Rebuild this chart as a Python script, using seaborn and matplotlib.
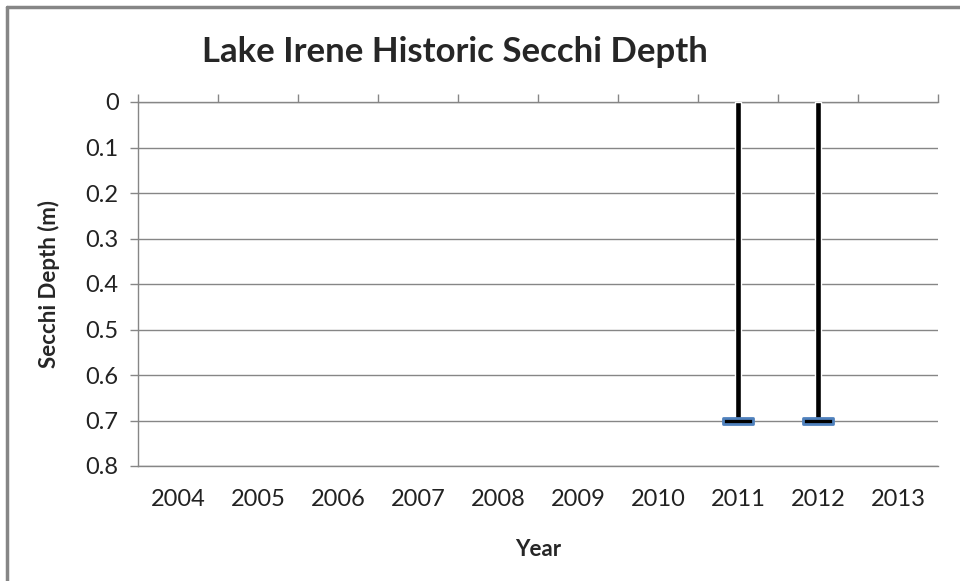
import matplotlib
matplotlib.use("Agg")
import matplotlib.pyplot as plt
from matplotlib.path import Path
from matplotlib.lines import Line2D
import numpy as np
import pandas as pd
import seaborn as sns

# data
years = ["2004", "2005", "2006", "2007", "2008", "2009", "2010", "2011", "2012", "2013"]
secchi = [np.nan, np.nan, np.nan, np.nan, np.nan, np.nan, np.nan, 0.7, 0.7, np.nan]
yticks = [0, 0.1, 0.2, 0.3, 0.4, 0.5, 0.6, 0.7, 0.8]

df = pd.DataFrame({"Year": years, "Secchi": secchi})

sns.set_style("white")
plt.rcParams["font.family"] = ["Lato", "DejaVu Sans"]
grey = "#868686"

fig = plt.figure(figsize=(9.6, 5.81), dpi=100)
ax = fig.add_axes([138 / 960, 1 - 466 / 581, 800 / 960, 364 / 581])

# drop bars from the surface down to the reading
sns.barplot(data=df, x="Year", y="Secchi", order=years, color="black",
            width=0.07, ax=ax, errorbar=None, zorder=3)

# flat dash marker at each reading
dash = Path([(-1, -0.22), (1, -0.22), (1, 0.22), (-1, 0.22), (-1, -0.22)],
            [Path.MOVETO, Path.LINETO, Path.LINETO, Path.LINETO, Path.CLOSEPOLY])
pts = df.dropna()
sns.scatterplot(x=[years.index(y) for y in pts["Year"]], y=pts["Secchi"], marker=dash,
                s=480, color="black", edgecolor="#4f81bd", linewidth=2, ax=ax, zorder=4,
                legend=False)

ax.set_xlim(-0.5, len(years) - 0.5)
ax.set_ylim(0.8, 0)
ax.set_yticks(yticks)
ax.set_yticklabels(["0", "0.1", "0.2", "0.3", "0.4", "0.5", "0.6", "0.7", "0.8"])
ax.yaxis.grid(True, color=grey, linewidth=1)
ax.set_axisbelow(True)

# tick marks sit between categories, on the surface line
ax.set_xticks(np.arange(-0.5, len(years), 1), minor=True)
ax.tick_params(axis="x", which="major", bottom=False, top=False, labelsize=17,
               pad=13, labelcolor="#222222")
ax.tick_params(axis="x", which="minor", bottom=False, top=True, direction="out",
               length=6, width=1, color=grey)
ax.tick_params(axis="y", left=True, direction="out", length=6, width=1, color=grey,
               labelsize=17, pad=8, labelcolor="#222222")

for side in ["top", "left", "bottom"]:
    ax.spines[side].set_color(grey)
    ax.spines[side].set_linewidth(1)
ax.spines["right"].set_visible(False)

ax.set_xlabel("Year", fontsize=16, fontweight="bold", labelpad=21)
ax.set_ylabel("Secchi Depth (m)", fontsize=16, fontweight="bold", labelpad=18)
fig.text(455 / 960, 1 - 52 / 581, "Lake Irene Historic Secchi Depth", ha="center",
         va="center", fontsize=25, fontweight="bold")

# chart area frame (cropped at right and bottom)
fig.add_artist(Line2D([7 / 960, 7 / 960], [0, 1 - 7 / 581], color=grey, lw=2.5,
                      transform=fig.transFigure))
fig.add_artist(Line2D([7 / 960, 1], [1 - 7 / 581, 1 - 7 / 581], color=grey, lw=2.5,
                      transform=fig.transFigure))

plt.savefig("out.png", dpi=100)
